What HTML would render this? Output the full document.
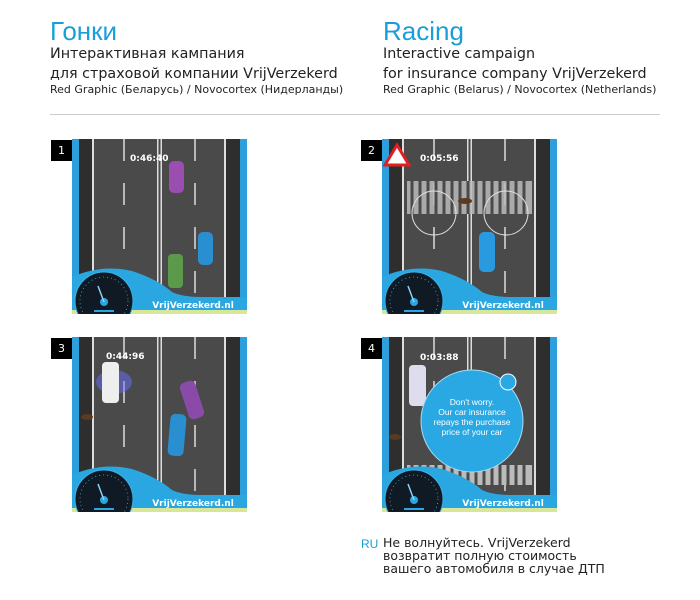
<!DOCTYPE html>
<html><head><meta charset="utf-8"><style>
body{margin:0;background:#fff;width:700px;height:600px;position:relative;overflow:hidden;font-family:"DejaVu Sans","Liberation Sans",sans-serif;}
.t{position:absolute;color:#1a9ed9;font-size:26px;line-height:30px;font-family:"Liberation Sans",sans-serif}
.s{position:absolute;color:#222;font-size:14.3px;line-height:20px}
.c{position:absolute;color:#222;font-size:11px;line-height:14px}
.hr{position:absolute;left:50px;top:114px;width:610px;height:1px;background:#ccc}
.n{position:absolute;width:21px;height:21px;background:#000;color:#fff;font-size:11px;line-height:21px;text-align:center}
svg.sc{position:absolute;width:175px;height:175px}
</style></head><body>
<div class="t" style="left:50px;top:16px">Гонки</div>
<div class="s" style="left:50px;top:44px">Интерактивная кампания<br>для страховой компании VrijVerzekerd</div>
<div class="c" style="left:50px;top:83px">Red Graphic (Беларусь) / Novocortex (Нидерланды)</div>
<div class="t" style="left:383px;top:16px">Racing</div>
<div class="s" style="left:383px;top:44px">Interactive campaign<br>for insurance company VrijVerzekerd</div>
<div class="c" style="left:383px;top:83px">Red Graphic (Belarus) / Novocortex (Netherlands)</div>
<div class="hr"></div>

<svg width="0" height="0" style="position:absolute">
<defs>
<g id="road">
<rect width="175" height="175" fill="#4a4a4a"/>
<rect x="0" width="7" height="175" fill="#2c9fdc"/>
<rect x="168" width="7" height="175" fill="#2c9fdc"/>
<rect x="7" width="13" height="175" fill="#2e2e2e"/>
<rect x="154" width="14" height="175" fill="#2e2e2e"/>
<rect x="20" width="2" height="175" fill="#ddd"/>
<rect x="152" width="2" height="175" fill="#ddd"/>
<rect x="85" width="1.5" height="175" fill="#ddd"/>
<rect x="88.5" width="1.5" height="175" fill="#ddd"/>
<line x1="52" y1="0" x2="52" y2="175" stroke="#ddd" stroke-width="1.5" stroke-dasharray="22,22"/>
<line x1="123" y1="0" x2="123" y2="175" stroke="#ddd" stroke-width="1.5" stroke-dasharray="22,22"/>
</g>
<g id="dash">
<path d="M0,138 Q30,125 60,132 Q85,140 100,153 Q110,158 130,158 L175,158 L175,175 L0,175Z" fill="#2aa6e0"/>
<rect x="0" y="171" width="175" height="4" fill="#d8e69a"/>
<circle cx="32" cy="162" r="29" fill="#0f1a24" stroke="#3bb3e8" stroke-width="1"/>
<circle cx="32" cy="162" r="24" fill="none" stroke="#3bb3e8" stroke-width="0.8" stroke-dasharray="1,3"/>
<circle cx="32" cy="163" r="4" fill="#2aa6e0"/>
<line x1="32" y1="163" x2="26" y2="147" stroke="#8fd3f5" stroke-width="1.5"/>
<rect x="22" y="171" width="20" height="2" fill="#2aa6e0"/>
<text x="121" y="169" font-size="9" font-weight="bold" fill="#fff" text-anchor="middle" font-family="DejaVu Sans,sans-serif">VrijVerzekerd.nl</text>
</g>
</defs></svg>

<div class="n" style="left:51px;top:140px">1</div>
<svg class="sc" style="left:72px;top:139px" viewBox="0 0 175 175">
<use href="#road"/>
<text x="58" y="22" font-size="9" font-weight="bold" fill="#fff" font-family="DejaVu Sans,sans-serif">0:46:40</text>
<rect x="97" y="22" width="15" height="32" rx="5" fill="#9a4fb0"/>
<rect x="126" y="93" width="15" height="33" rx="5" fill="#2a8fd0"/>
<rect x="96" y="115" width="15" height="34" rx="4" fill="#5a9a4a"/>
<use href="#dash"/>
</svg>

<div class="n" style="left:361px;top:140px">2</div>
<svg class="sc" style="left:382px;top:139px" viewBox="0 0 175 175">
<use href="#road"/>
<g fill="#bbb" opacity="0.85">
<rect x="25" y="42" width="125" height="33"/>
</g>
<g stroke="#4a4a4a" stroke-width="3">
<line x1="30" y1="42" x2="30" y2="75"/><line x1="38" y1="42" x2="38" y2="75"/><line x1="46" y1="42" x2="46" y2="75"/><line x1="54" y1="42" x2="54" y2="75"/><line x1="62" y1="42" x2="62" y2="75"/><line x1="70" y1="42" x2="70" y2="75"/><line x1="78" y1="42" x2="78" y2="75"/><line x1="86" y1="42" x2="86" y2="75"/><line x1="94" y1="42" x2="94" y2="75"/><line x1="102" y1="42" x2="102" y2="75"/><line x1="110" y1="42" x2="110" y2="75"/><line x1="118" y1="42" x2="118" y2="75"/><line x1="126" y1="42" x2="126" y2="75"/><line x1="134" y1="42" x2="134" y2="75"/><line x1="142" y1="42" x2="142" y2="75"/>
</g>
<circle cx="52" cy="74" r="22" fill="none" stroke="#ddd" stroke-width="1"/>
<circle cx="124" cy="74" r="22" fill="none" stroke="#ddd" stroke-width="1"/>
<ellipse cx="83" cy="62" rx="7" ry="3" fill="#5a3a20"/>
<path d="M3,26 L15,6 L27,26Z" fill="#fff" stroke="#e02020" stroke-width="3"/>
<text x="38" y="22" font-size="9" font-weight="bold" fill="#fff" font-family="DejaVu Sans,sans-serif">0:05:56</text>
<rect x="97" y="93" width="16" height="40" rx="5" fill="#2a9ae0"/>
<use href="#dash"/>
</svg>

<div class="n" style="left:51px;top:338px">3</div>
<svg class="sc" style="left:72px;top:337px" viewBox="0 0 175 175">
<use href="#road"/>
<text x="34" y="22" font-size="9" font-weight="bold" fill="#fff" font-family="DejaVu Sans,sans-serif">0:44:96</text>
<ellipse cx="42" cy="45" rx="18" ry="12" fill="#6a70ff" opacity="0.5"/>
<rect x="30" y="25" width="17" height="41" rx="4" fill="#eee"/>
<rect x="112" y="44" width="16" height="38" rx="5" fill="#8a4aa8" transform="rotate(-18 120 63)"/>
<rect x="97" y="77" width="16" height="42" rx="5" fill="#2a8fd0" transform="rotate(5 105 98)"/>
<ellipse cx="15" cy="80" rx="6" ry="3" fill="#5a3a20"/>
<use href="#dash"/>
</svg>

<div class="n" style="left:361px;top:338px">4</div>
<svg class="sc" style="left:382px;top:337px" viewBox="0 0 175 175">
<use href="#road"/>
<rect x="25" y="128" width="125" height="20" fill="#bbb"/>
<g stroke="#4a4a4a" stroke-width="3">
<line x1="30" y1="128" x2="30" y2="148"/><line x1="38" y1="128" x2="38" y2="148"/><line x1="46" y1="128" x2="46" y2="148"/><line x1="54" y1="128" x2="54" y2="148"/><line x1="62" y1="128" x2="62" y2="148"/><line x1="70" y1="128" x2="70" y2="148"/><line x1="78" y1="128" x2="78" y2="148"/><line x1="86" y1="128" x2="86" y2="148"/><line x1="94" y1="128" x2="94" y2="148"/><line x1="102" y1="128" x2="102" y2="148"/><line x1="110" y1="128" x2="110" y2="148"/><line x1="118" y1="128" x2="118" y2="148"/><line x1="126" y1="128" x2="126" y2="148"/><line x1="134" y1="128" x2="134" y2="148"/><line x1="142" y1="128" x2="142" y2="148"/>
</g>
<text x="38" y="23" font-size="9" font-weight="bold" fill="#fff" font-family="DejaVu Sans,sans-serif">0:03:88</text>
<rect x="27" y="28" width="17" height="41" rx="4" fill="#dde"/>
<ellipse cx="13" cy="100" rx="6" ry="3" fill="#5a3a20"/>
<circle cx="90" cy="84" r="51" fill="#2aa8e4" stroke="#a8dcf4" stroke-width="1"/>
<circle cx="126" cy="45" r="8" fill="#2aa8e4" stroke="#fff" stroke-width="1"/>
<g font-size="8.5" fill="#fff" text-anchor="middle" font-family="Liberation Sans,sans-serif">
<text x="90" y="68">Don't worry.</text>
<text x="90" y="78">Our car insurance</text>
<text x="90" y="88">repays the purchase</text>
<text x="90" y="98">price of your car</text>
</g>
<use href="#dash"/>
</svg>

<div class="c" style="left:361px;top:537px;color:#1a9ed9;font-size:12px;font-family:'Liberation Sans',sans-serif">RU</div>
<div class="c" style="left:383px;top:536px;font-size:12.5px;line-height:13px">Не волнуйтесь. VrijVerzekerd<br>возвратит полную стоимость<br>вашего автомобиля в случае ДТП</div>
</body></html>
